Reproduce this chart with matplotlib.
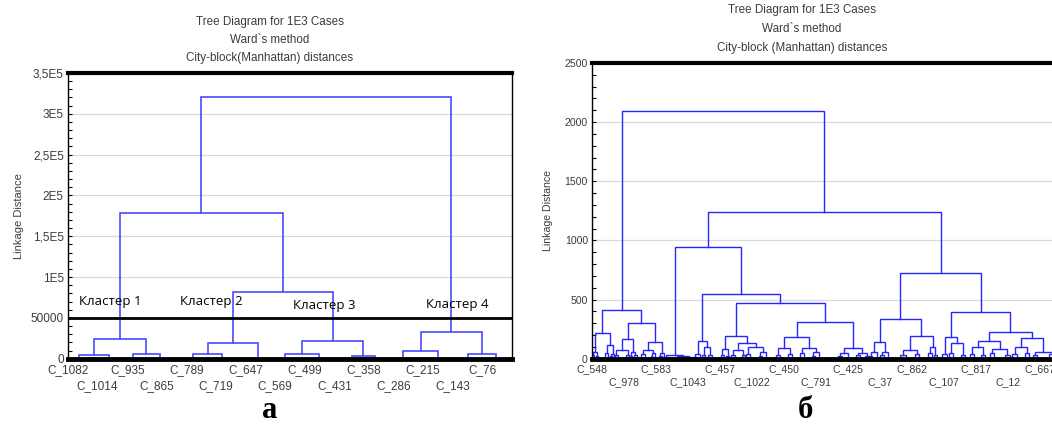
"""
Two Ward/Manhattan dendrograms (Statistica style) for 1E3 cases, side by side.
Left: truncated tree with 4 clusters, right: the full tree.
"""
import matplotlib
matplotlib.use("Agg")
import matplotlib.pyplot as plt
import numpy as np

plt.rcParams.update({
    "font.family": ["Liberation Sans", "DejaVu Sans"],
    "font.size": 8.5,
    "figure.dpi": 100,
})

TITLE_LINES = ["Tree Diagram for 1E3 Cases", "Ward`s method",
               "City-block(Manhattan) distances"]
TITLE_LINES_R = ["Tree Diagram for 1E3 Cases", "Ward`s method",
                 "City-block (Manhattan) distances"]

# tick labels (every 1000/15 cases)
labels_left = ["C_1082", "C_1014", "C_935", "C_865", "C_789", "C_719", "C_647",
               "C_569", "C_499", "C_431", "C_358", "C_286", "C_215", "C_143", "C_76"]
labels_right = ["C_548", "C_978", "C_583", "C_1043", "C_457", "C_1022", "C_450",
                "C_791", "C_425", "C_37", "C_862", "C_107", "C_817", "C_12", "C_667"]
yticks_left = [0, 50000, 100000, 150000, 200000, 250000, 300000, 350000]
ylabels_left = ["0", "50000", "1E5", "1,5E5", "2E5", "2,5E5", "3E5", "3,5E5"]
yticks_right = [0, 500, 1000, 1500, 2000, 2500]

# trees: (height, left, right); a bare number is a leaf at that case position
cluster1 = (24000, (4500, 25, 92), (5800, 146, 207))
cluster2 = (19000, (5800, 282, 347), 428)
cluster3 = (22000, (5800, 489, 565), (3700, 640, 691))
cluster4 = (32700, (9000, 755, 833), (5800, 901, 964))
tree_left = (320600, (178500, cluster1, (82000, cluster2, cluster3)), cluster4)
cut_level = 50000
cluster_names = ["Кластер 1", "Кластер 2", "Кластер 3", "Кластер 4"]
cluster_label_x = [25, 252, 507, 806]
cluster_label_y = [69500, 69800, 64900, 67000]

a1 = (220, (59, (30, 0, 4), (25, 8, 12)), (116, (45, 28, 34), (40, (20, 38, 42), 46)))
a2a = (167, (73, (35, 48, 54), (30, 70, 78)), (60, (25, 79, 83), (35, 87, 93)))
a2b = (139, (70, (40, 102, 110), (45, (20, 122, 126), 132)), (50, (25, 139, 145), 150))
b1a = (30, (12, 150, 160), (20, (10, 172, 182), (15, 196, 210)))
b1b1 = (150, (40, (15, 212, 218), 225), (100, (35, 230, 236), (30, 242, 250)))
b1b2a = (194, (80, (30, 268, 274), (25, 280, 286)),
         (130, (70, (30, 290, 298), (35, 312, 318)),
          (100, (40, 321, 329), (55, (25, 348, 354), 362))))
b1b2b = (310, (186, (90, (35, 384, 392), (40, 408, 416)),
               (90, (45, 434, 442), (60, (25, 458, 464), 472))),
         (90, (50, (20, 513, 521), 533), (50, (30, 550, 558), (20, 568, 578))))
b2a = (333, (144, (60, (25, 578, 584), 594), (55, (30, 600, 608), 617)),
       (192, (70, (35, 642, 654), (40, 672, 682)), (100, (45, 700, 708), (30, 712, 718))))
b2b = (392, (183, (40, 730, 740), (130, (45, 744, 752), (35, 768, 778))),
       (228, (150, (100, (40, 788, 796), (35, 811, 819)), (80, (45, 829, 837), (30, 860, 870))),
        (175, (100, (40, 876, 886), (50, 902, 910)), (60, (30, 918, 928), (40, 952, 964)))))
tree_right = (2094, (409, a1, (302, a2a, a2b)),
              (1238, (944, b1a, (549, b1b1, (473, b1b2a, b1b2b))), (723, b2a, b2b)))

GRAY = "#3c3c3c"


def draw_tree(ax, node, color, lw):
    """Draw a nested (h, left, right) tree, return (x, h) of the node."""
    if not isinstance(node, tuple):
        return float(node), 0.0
    h, left, right = node
    xl, hl = draw_tree(ax, left, color, lw)
    xr, hr = draw_tree(ax, right, color, lw)
    ax.plot([xl, xl, xr, xr], [hl, h, h, hr], color=color, lw=lw,
            solid_joinstyle="miter", zorder=3)
    return (xl + xr) / 2, h


def style_axes(ax, labels, tick_fs, row_gap):
    ax.set_xlim(0, 1000)
    pos = np.arange(len(labels)) * 1000 / len(labels)
    # two staggered rows of labels: upper row on major ticks, lower row on minor ones
    ax.set_xticks(pos[0::2])
    ax.set_xticklabels(labels[0::2])
    ax.set_xticks(pos[1::2], minor=True)
    ax.set_xticklabels(labels[1::2], minor=True)
    ax.tick_params(axis="x", which="both", length=0, labelsize=tick_fs, labelcolor=GRAY)
    ax.tick_params(axis="x", which="major", pad=4)
    ax.tick_params(axis="x", which="minor", pad=4 + row_gap)
    ax.tick_params(axis="y", which="both", direction="in", length=3, width=0.8,
                   labelsize=tick_fs, labelcolor=GRAY, pad=3)
    ax.grid(True, axis="y", which="major", color="#d9d9d9", lw=0.9, zorder=0)
    ax.set_axisbelow(True)
    ax.spines["top"].set_linewidth(3)
    ax.spines["bottom"].set_linewidth(3.5)
    ax.spines["left"].set_linewidth(1)
    ax.spines["right"].set_linewidth(1)
    for s in ax.spines.values():
        s.set_zorder(5)


def main():
    fig = plt.figure(figsize=(10.52, 4.32))

    # ---- left: truncated tree ----
    ax = fig.add_axes([68 / 1052, 1 - 358.7 / 432, 444 / 1052, 285.7 / 432])
    draw_tree(ax, tree_left, "#4a4aff", 1.2)
    ax.axhline(cut_level, color="black", lw=2, zorder=4)
    ax.set_ylim(0, 350000)
    ax.set_yticks(yticks_left)
    ax.set_yticklabels(ylabels_left)
    ax.set_yticks(np.arange(0, 350001, 10000), minor=True)
    style_axes(ax, labels_left, 8.5, 11.3)
    ax.set_ylabel("Linkage Distance", color=GRAY, fontsize=8, labelpad=5)
    for name, x, y in zip(cluster_names, cluster_label_x, cluster_label_y):
        ax.text(x, y, name, fontsize=9.5, family=["Open Sans", "DejaVu Sans"],
                va="center", ha="left", color="black", zorder=6)
    for i, line in enumerate(TITLE_LINES):
        fig.text(270 / 1052, 1 - (22 + 18 * i) / 432, line, ha="center", va="center",
                 fontsize=8.4, color=GRAY)
    fig.text(270 / 1052, 1 - 410 / 432, "а", ha="center", va="center", fontsize=22,
             fontweight="bold", family=["Liberation Serif", "DejaVu Serif"])

    # ---- right: full tree ----
    ax2 = fig.add_axes([592 / 1052, 1 - 358.7 / 432, 480 / 1052, 295.7 / 432])
    draw_tree(ax2, tree_right, "#2525ff", 1.0)
    ax2.set_ylim(0, 2500)
    ax2.set_yticks(yticks_right)
    ax2.set_yticks(np.arange(0, 2501, 100), minor=True)
    style_axes(ax2, labels_right, 7.6, 9.4)
    ax2.set_ylabel("Linkage Distance", color=GRAY, fontsize=7.6, labelpad=8)
    for i, line in enumerate(TITLE_LINES_R):
        fig.text(802 / 1052, 1 - (10 + 19 * i) / 432, line, ha="center", va="center",
                 fontsize=8.4, color=GRAY)
    fig.text(805 / 1052, 1 - 410 / 432, "б", ha="center", va="center", fontsize=22,
             fontweight="bold", family=["Liberation Serif", "DejaVu Serif"])

    fig.savefig("out.png", dpi=100)
    plt.close(fig)


if __name__ == "__main__":
    main()
